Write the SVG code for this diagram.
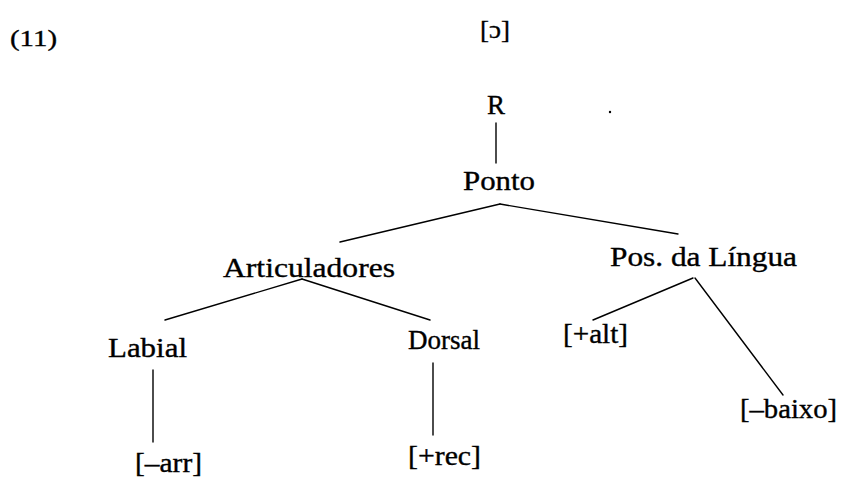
<svg xmlns="http://www.w3.org/2000/svg" width="842" height="478" viewBox="0 0 842 478">
  <style>
    text { font-family: "Liberation Serif", "DejaVu Serif", serif; font-size: 27px; fill: #000; stroke: #000; stroke-width: 0.35; }
    .edge { stroke: #000; stroke-width: 1.4; fill: none; stroke-linecap: round; }
  </style>
  <rect width="842" height="478" fill="#fff"/>

  <!-- example number and segment -->
  <text id="num" x="10" y="46" style="font-size:24px" textLength="47" lengthAdjust="spacingAndGlyphs">(11)</text>
  <text id="segment" x="480" y="38" style="font-size:25px" textLength="30" lengthAdjust="spacingAndGlyphs">[ɔ]</text>
  <circle cx="610" cy="112" r="1.2" fill="#000"/>

  <!-- connectors -->
  <g id="edges">
    <line class="edge" x1="496" y1="123" x2="496" y2="163"/>
    <line class="edge" x1="500" y1="204" x2="340" y2="242"/>
    <line class="edge" x1="500" y1="204" x2="678" y2="234"/>
    <line class="edge" x1="302" y1="279" x2="165" y2="320"/>
    <line class="edge" x1="302" y1="279" x2="430" y2="320"/>
    <line class="edge" x1="693" y1="278" x2="593" y2="320"/>
    <line class="edge" x1="695" y1="278" x2="783" y2="395"/>
    <line class="edge" x1="153" y1="370" x2="153" y2="442"/>
    <line class="edge" x1="433" y1="363" x2="433" y2="435"/>
  </g>

  <!-- nodes -->
  <g id="node-R"><text x="487" y="114" textLength="18" lengthAdjust="spacingAndGlyphs">R</text></g>
  <g id="node-ponto"><text x="463" y="190" textLength="72" lengthAdjust="spacingAndGlyphs">Ponto</text></g>
  <g id="node-articuladores"><text x="223" y="277" textLength="172" lengthAdjust="spacingAndGlyphs">Articuladores</text></g>
  <g id="node-poslingua"><text x="610" y="266" textLength="187" lengthAdjust="spacingAndGlyphs">Pos. da Língua</text></g>
  <g id="node-labial"><text x="108" y="357" textLength="79" lengthAdjust="spacingAndGlyphs">Labial</text></g>
  <g id="node-dorsal"><text x="408" y="349" textLength="72" lengthAdjust="spacingAndGlyphs">Dorsal</text></g>
  <g id="node-alt"><text x="563" y="343" textLength="65" lengthAdjust="spacingAndGlyphs">[+alt]</text></g>
  <g id="node-baixo"><text x="740" y="418" textLength="97" lengthAdjust="spacingAndGlyphs">[–baixo]</text></g>
  <g id="node-arr"><text x="135" y="472" textLength="67" lengthAdjust="spacingAndGlyphs">[–arr]</text></g>
  <g id="node-rec"><text x="408" y="465" textLength="73" lengthAdjust="spacingAndGlyphs">[+rec]</text></g>
</svg>
